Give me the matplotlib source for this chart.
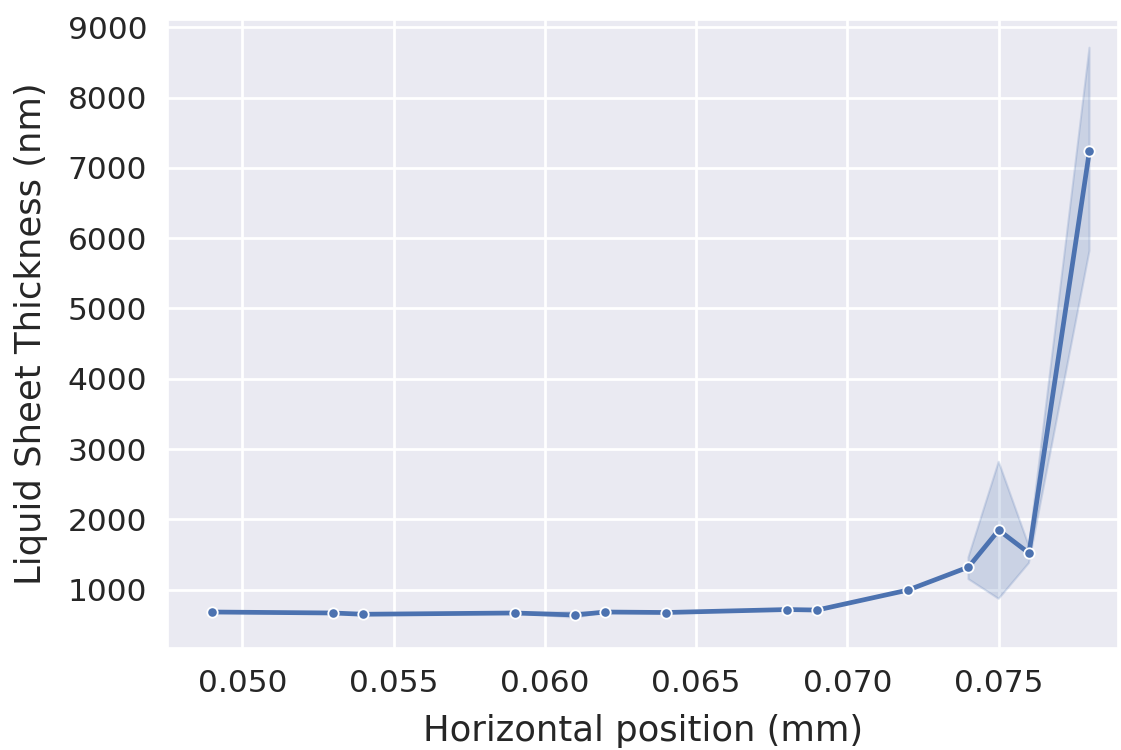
import matplotlib
matplotlib.use("Agg")
import matplotlib.pyplot as plt
import seaborn as sns
import numpy as np

sns.set_theme(style="darkgrid")
plt.rcParams['font.family'] = ['DejaVu Sans']

# horizontal position (mm) and mean thickness (nm)
pos = [0.049, 0.053, 0.054, 0.059, 0.061, 0.062, 0.064, 0.068, 0.069,
       0.072, 0.074, 0.075, 0.076, 0.078]
thick = [682, 668, 650, 668, 640, 682, 675, 717, 710,
         994, 1321, 1847, 1520, 7244]
# confidence band (nan = single observation)
ci_low = [682, 668, 650, 668, 600, 682, 675, 717, 710,
          np.nan, 1150, 870, 1380, 5820]
ci_high = [682, 668, 650, 668, 680, 682, 675, 717, 710,
           np.nan, 1460, 2820, 1620, 8710]

fig = plt.figure(figsize=(11.21, 7.5), dpi=100)
ax = fig.add_axes([0.150, 0.136, 0.847, 0.837])

c = '#4c72b0'
ax.fill_between(pos, ci_low, ci_high, color=c, alpha=0.2, linewidth=1.5)
ax.plot(pos, thick, color=c, lw=3.4, marker='o', markersize=7.5,
        markeredgecolor='white', markeredgewidth=1.3)

ax.set_xlim(0.04755, 0.07893)
ax.set_ylim(170, 9100)
ax.set_xticks([0.050, 0.055, 0.060, 0.065, 0.070, 0.075])
ax.set_xticklabels(['0.050', '0.055', '0.060', '0.065', '0.070', '0.075'])
ax.set_yticks(range(1000, 9001, 1000))
ax.tick_params(labelsize=22.5, colors='#262626', pad=9)
ax.grid(color='white', linewidth=2)

ax.set_xlabel('Horizontal position (mm)', fontsize=25.5, color='#262626', labelpad=12)
ax.set_ylabel('Liquid Sheet Thickness (nm)', fontsize=25.5, color='#262626', labelpad=14)

fig.savefig('out.png', dpi=100)
